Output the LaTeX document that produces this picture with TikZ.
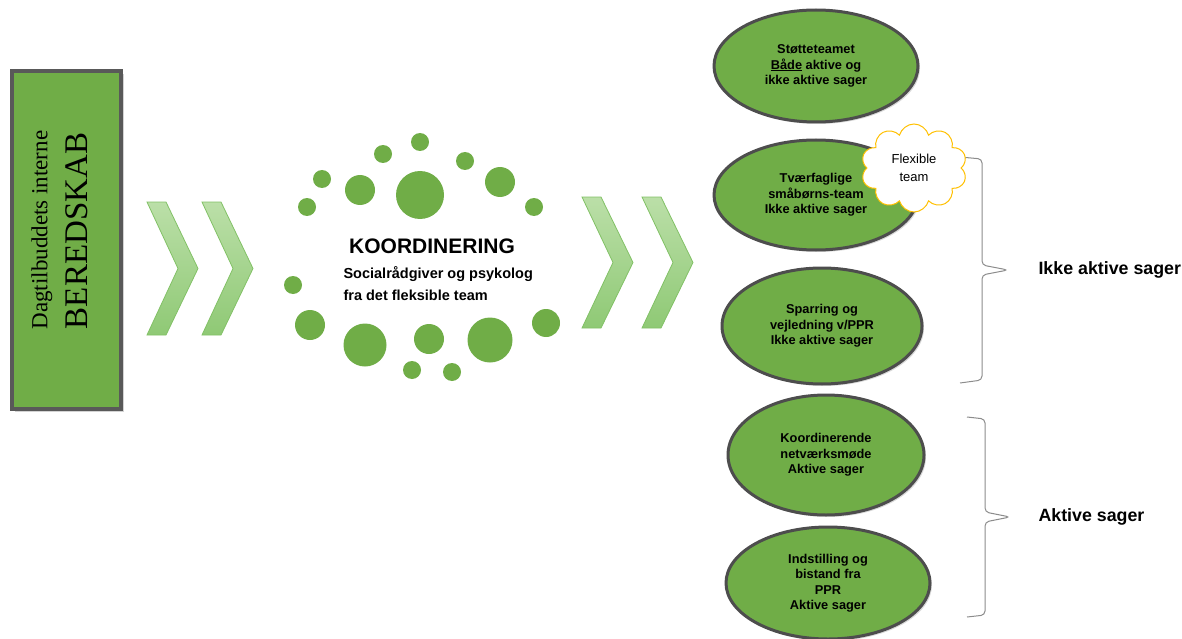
\documentclass[tikz,border=0pt]{standalone}
\usepackage{fontspec}
\setmainfont{Liberation Sans}
\newfontfamily\boxserif{Liberation Serif}
\usetikzlibrary{shapes.geometric, shapes.symbols, shadows}

\definecolor{teamgreen}{HTML}{70AD47}
\definecolor{rimgray}{HTML}{4D4D4D}
\definecolor{panelgray}{HTML}{595959}
\definecolor{chevtop}{HTML}{BBDFA8}
\definecolor{chevbot}{HTML}{8FC975}
\definecolor{chevline}{HTML}{82C166}
\definecolor{bracegray}{HTML}{8C8C8C}
\definecolor{cloudyellow}{HTML}{FFC000}

\begin{document}
\begin{tikzpicture}[x=1pt, y=-1pt,
    team/.style = {ellipse, draw=rimgray, line width=3pt, fill=teamgreen, inner sep=0pt, align=center,
        font=\fontsize{12.8}{15.5}\selectfont\bfseries,
        drop shadow={shadow xshift=2pt, shadow yshift=-2pt, opacity=.3}},
    bubble/.style = {circle, fill=teamgreen, inner sep=0pt, minimum size=#1},
    chev/.style = {draw=chevline, line width=0.8pt, top color=chevtop, bottom color=chevbot},
    bracket/.style = {draw=bracegray, line width=1pt, rounded corners=4pt},
    sidelabel/.style = {anchor=west, font=\fontsize{17.8}{20}\selectfont\bfseries}]
    \useasboundingbox (0,0) rectangle (1182,639);

    % beredskab panel
    \node[draw=panelgray, line width=4pt, fill=teamgreen, minimum width=109pt, minimum height=337pt,
        drop shadow={shadow xshift=3pt, shadow yshift=-3pt, opacity=.35}] (panel) at (66,240) {};
    \node[rotate=90, font=\boxserif\fontsize{23}{26}\selectfont] (panelsub) at (42,230) {Dagtilbuddets interne};
    \node[rotate=90, font=\boxserif\fontsize{33}{36}\selectfont] (paneltitle) at (77,231) {BEREDSKAB};

    % chevrons
    \foreach \x/\t/\b in {147/202/335, 202/202/335, 582/197/328, 642/197/328}
        \path[chev] (\x,\t) -- ++(19,0) -- (\x+51,{(\t+\b)/2}) -- (\x+19,\b) -- (\x,\b) -- (\x+31,{(\t+\b)/2}) -- cycle;

    % dots round the coordination text
    \foreach \x/\y/\d [count=\i] in {420/142/18, 383/154/18, 465/161/18, 322/179/18, 360/190/30,
        420/195/48, 500/182/30, 307/207/18, 534/207/18, 293/285/18, 310/325/30, 365/345/43,
        429/339/30, 490/340/45, 546/323/28, 412/370/18, 452/372/18}
        \node[bubble=\d pt] (d\i) at (\x,\y) {};

    \node[font=\fontsize{21}{24}\selectfont\bfseries] (koord) at (432,246) {KOORDINERING};
    \node[anchor=west, align=left, font=\fontsize{14.5}{22}\selectfont\bfseries] (koordsub) at (340,284)
        {Socialrådgiver og psykolog\\fra det fleksible team};

    % teams
    \node[team, minimum width=204pt, minimum height=112pt] (stotte) at (816,66)
        {Støtteteamet\\\underline{Både} aktive og\\ikke aktive sager};
    \node[team, minimum width=204pt, minimum height=110pt] (tvaer) at (816,195)
        {Tværfaglige\\småbørns-team\\Ikke aktive sager};
    \node[team, minimum width=200pt, minimum height=116pt] (sparring) at (822,326)
        {Sparring og\\vejledning v/PPR\\Ikke aktive sager};
    \node[team, minimum width=196pt, minimum height=120pt] (netvaerk) at (826,455)
        {Koordinerende\\netværksmøde\\Aktive sager};
    \node[team, minimum width=204pt, minimum height=112pt] (indstil) at (828,583)
        {Indstilling og\\bistand fra\\PPR\\Aktive sager};

    % braces
    \coordinate (tip1) at (1008,270);
    \coordinate (tip2) at (1010,517);
    \draw[bracket] (960,157) -- (982,159) -- (982,265) -- (tip1) -- (982,275) -- (982,380) -- (960,383);
    \draw[bracket] (967,417) -- (985,419) -- (985,512) -- (tip2) -- (985,522) -- (985,615) -- (967,617);
    \node[sidelabel] (idle) at (1035,270) {Ikke aktive sager};
    \node[sidelabel] (active) at (1035,517) {Aktive sager};

    \node[cloud, cloud puffs=10, aspect=1.25, draw=cloudyellow, fill=white, line width=1pt,
        minimum width=106pt, minimum height=88pt, inner sep=0pt, align=center,
        font=\fontsize{13}{18}\selectfont] (flex) at (914,168) {Flexible\\team};
\end{tikzpicture}
\end{document}
